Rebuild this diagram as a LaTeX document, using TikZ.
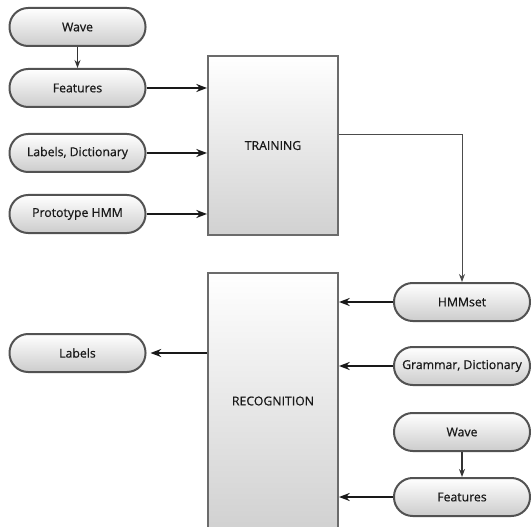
\documentclass[tikz,border=0pt]{standalone}
\usepackage{fontspec}
\setmainfont{Open Sans}
\newfontfamily\pillfont{Open Sans}[FakeBold=0.6]
\usepackage{tikz}
\usetikzlibrary{arrows.meta}

\tikzset{
  pill/.style={draw=black!68, line width=1.5pt, rounded corners=14pt, top color=white, bottom color=black!20,
    minimum width=102pt, minimum height=28.5pt, inner sep=0.75pt, font=\pillfont\fontsize{9.2}{11}\selectfont, text=black!90},
  block/.style={draw=black!58, line width=1.5pt, top color=white, bottom color=black!18,
    minimum width=97.5pt, inner sep=0.75pt, font=\pillfont\fontsize{9.2}{11}\selectfont, text=black!90},
  arr/.style={-{Stealth[length=8pt,width=6pt]}, line width=1.4pt, black!90},
  smallarr/.style={-{Stealth[length=6pt,width=4.5pt]}, line width=1pt, black!80},
}

\begin{document}
\begin{tikzpicture}[x=0.75pt,y=0.75pt,yscale=-1,xscale=1]
\useasboundingbox (0,0) rectangle (531,527);
\clip (0,0) rectangle (531,527);

% Training side
\node [pill] (wave) at (77.5,27) {Wave};
\node [pill] (features) at (77.5,88) {Features};
\node [pill] (labdict) at (77.5,153) {Labels, Dictionary};
\node [pill] (proto) at (77.5,214) {Prototype HMM};
\node [block, minimum height=134pt] (training) at (273,145.5) {TRAINING};

% Recognition side
\node [block, minimum height=192pt] (recog) at (273,401) {RECOGNITION};
\node [pill] (labels) at (77.5,353) {Labels};
\node [pill] (hmmset) at (462,302) {HMMset};
\node [pill] (gramdict) at (462,366) {Grammar, Dictionary};
\node [pill] (wave2) at (462,432) {Wave};
\node [pill] (features2) at (462,497) {Features};

% Connectors
\draw [smallarr] (wave) -- (features);
\draw [arr] (features) -- (features -| training.west);
\draw [arr] (labdict) -- (labdict -| training.west);
\draw [arr] (proto) -- (proto -| training.west);
\draw [smallarr, line width=0.6pt, black!70] ([yshift=-8.6pt]training.east) -| (hmmset.north);

\draw [arr] (hmmset) -- (hmmset -| recog.east);
\draw [arr] (gramdict) -- (gramdict -| recog.east);
\draw [smallarr] (wave2) -- (features2);
\draw [arr] (features2) -- (features2 -| recog.east);
\draw [arr] (labels -| recog.west) -- ([xshift=3pt]labels.east);

\end{tikzpicture}
\end{document}
